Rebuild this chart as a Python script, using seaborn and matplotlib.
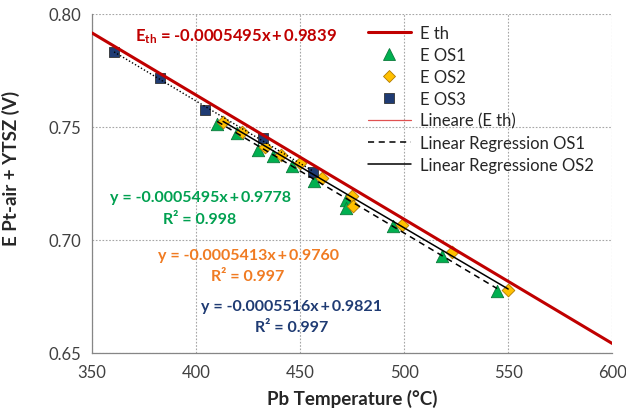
import numpy as np
import pandas as pd
import matplotlib
matplotlib.use("Agg")
import matplotlib.pyplot as plt
import seaborn as sns
from matplotlib.ticker import MultipleLocator, FormatStrFormatter
from matplotlib.lines import Line2D

# ---------------------------------------------------------------
# data
# ---------------------------------------------------------------
t_os1 = [410.1, 419.7, 429.8, 437.0, 446.2, 456.7, 472.1, 472.1, 494.7, 518.3, 544.7]
e_os1 = [0.7513, 0.7473, 0.7398, 0.7372, 0.7327, 0.7261, 0.7177, 0.7142, 0.7062, 0.6929, 0.6774]

t_os2 = [413.0, 422.1, 433.2, 440.9, 450.0, 460.6, 475.0, 475.5, 499.0, 523.1, 550.0]
e_os2 = [0.7522, 0.7478, 0.7412, 0.7376, 0.7341, 0.7274, 0.7195, 0.7150, 0.7066, 0.6947, 0.6779]

t_os3 = [360.6, 382.7, 404.3, 432.2, 456.3]
e_os3 = [0.7832, 0.7717, 0.7575, 0.7451, 0.7301]

# fit coefficients printed on the chart (slope, intercept, r2)
fit_th = (-0.0005495, 0.9839)
fit_os1 = (-0.0005495, 0.9778, 0.998)
fit_os2 = (-0.0005413, 0.9760, 0.997)
fit_os3 = (-0.0005516, 0.9821, 0.997)
t_th = [350, 600]

RED = "#C00000"
GREEN = "#00B050"
GOLD = "#FFC000"
NAVY = "#1F3B73"
TXT_GREEN = "#00A050"
TXT_ORANGE = "#F07B22"

sns.set_style("white")
plt.rcParams['font.family'] = ['Lato', 'DejaVu Sans']
plt.rcParams['mathtext.fontset'] = 'custom'
plt.rcParams['mathtext.rm'] = 'Lato'
plt.rcParams['mathtext.bf'] = 'Lato:bold'

TS = "\u2009"  # thin space, as around the "+" in the original labels


def line_df(xs, coef):
    xs = np.array(xs, dtype=float)
    return pd.DataFrame({"x": xs, "y": coef[0] * xs + coef[1]})


def eq(coef):
    return "y = %.7fx" % coef[0] + TS + "+" + TS + "%.4f" % coef[1]


fig = plt.figure(figsize=(6.26, 4.14), dpi=100)
ax = fig.add_axes([0.147, 0.145, 0.831, 0.819])

# markers
sns.scatterplot(x=t_os1, y=e_os1, ax=ax, marker="^", s=80, color=GREEN,
                edgecolor="#0B7A3B", linewidth=0.6, zorder=3)
sns.scatterplot(x=t_os2, y=e_os2, ax=ax, marker="D", s=42, color=GOLD,
                edgecolor="#B07A00", linewidth=0.6, zorder=3)
sns.scatterplot(x=t_os3, y=e_os3, ax=ax, marker="s", s=48, color=NAVY,
                edgecolor="#333333", linewidth=0.6, zorder=3)

# lines (drawn over the markers, like the original)
d = line_df(t_th, fit_th)
sns.lineplot(data=d, x="x", y="y", ax=ax, color="#E05050", lw=0.8, zorder=3.5)
sns.lineplot(data=d, x="x", y="y", ax=ax, color=RED, lw=2.2, zorder=4)
d = line_df([min(t_os1), max(t_os1)], fit_os1)
sns.lineplot(data=d, x="x", y="y", ax=ax, color="black", lw=1.1, ls=(0, (4, 3)), zorder=4)
d = line_df([min(t_os2), max(t_os2)], fit_os2)
sns.lineplot(data=d, x="x", y="y", ax=ax, color="black", lw=1.1, zorder=4)
d = line_df([min(t_os3), max(t_os3)], fit_os3)
sns.lineplot(data=d, x="x", y="y", ax=ax, color="black", lw=1.0, ls=(0, (1, 1.5)), zorder=4)

ax.set_xlim(350, 600)
ax.set_ylim(0.65, 0.80)
ax.xaxis.set_major_locator(MultipleLocator(50))
ax.xaxis.set_minor_locator(MultipleLocator(10))
ax.yaxis.set_major_locator(MultipleLocator(0.05))
ax.yaxis.set_minor_locator(MultipleLocator(0.01))
ax.yaxis.set_major_formatter(FormatStrFormatter("%.2f"))
ax.grid(True, which="major", color="#A6A6A6", ls=(0, (1.5, 1.5)), lw=0.8)
for s in ["top", "right"]:
    ax.spines[s].set_visible(False)
for s in ["left", "bottom"]:
    ax.spines[s].set_color("#868686")
    ax.spines[s].set_linewidth(0.9)
ax.tick_params(which="major", direction="out", length=5, width=0.8, color="#868686",
               labelsize=12, labelcolor="#404040", pad=3)
ax.tick_params(which="minor", direction="out", length=3.5, width=0.8, color="#868686")
ax.set_xlabel("Pb Temperature (°C)", fontsize=13.5, fontweight="bold", labelpad=6)
ax.set_ylabel("E Pt-air + YTSZ (V)", fontsize=13.5, fontweight="bold", labelpad=9)
ax.yaxis.set_label_coords(-0.138, 0.546)

# equations
ax.text(419.2, 0.7903, r"$\mathbf{E_{th}}$ = %.7fx" % fit_th[0] + TS + "+" + TS + "%.4f" % fit_th[1],
        color=RED, fontsize=12, fontweight="bold", ha="center", va="center")
ax.text(401.9, 0.7190, eq(fit_os1), color=TXT_GREEN,
        fontsize=11.5, fontweight="bold", ha="center", va="center")
ax.text(401.9, 0.7093, "R² = %.3f" % fit_os1[2], color=TXT_GREEN,
        fontsize=11.5, fontweight="bold", ha="center", va="center")
ax.text(425.0, 0.6934, eq(fit_os2), color=TXT_ORANGE,
        fontsize=11.5, fontweight="bold", ha="center", va="center")
ax.text(425.0, 0.6841, "R² = %.3f" % fit_os2[2], color=TXT_ORANGE,
        fontsize=11.5, fontweight="bold", ha="center", va="center")
ax.text(445.7, 0.6708, eq(fit_os3), color=NAVY,
        fontsize=11.5, fontweight="bold", ha="center", va="center")
ax.text(445.7, 0.6615, "R² = %.3f" % fit_os3[2], color=NAVY,
        fontsize=11.5, fontweight="bold", ha="center", va="center")

handles = [
    Line2D([], [], color=RED, lw=2.2),
    Line2D([], [], ls="none", marker="^", ms=9, mfc=GREEN, mec="#0B7A3B", mew=0.6),
    Line2D([], [], ls="none", marker="D", ms=6.5, mfc=GOLD, mec="#B07A00", mew=0.6),
    Line2D([], [], ls="none", marker="s", ms=7, mfc=NAVY, mec="#333333", mew=0.6),
    Line2D([], [], color="#E05050", lw=0.9),
    Line2D([], [], color="black", lw=1.1, ls=(0, (4, 3))),
    Line2D([], [], color="black", lw=1.1),
]
labels = ["E th", "E OS1", "E OS2", "E OS3", "Lineare (E th)",
          "Linear Regression OS1", "Linear Regressione OS2"]
ax.legend(handles, labels, loc="upper left", bbox_to_anchor=(0.53, 0.968),
          frameon=False, fontsize=12, handlelength=2.6, handletextpad=0.55,
          labelspacing=0.36, borderpad=0, borderaxespad=0)

fig.savefig("out.png", dpi=100)
